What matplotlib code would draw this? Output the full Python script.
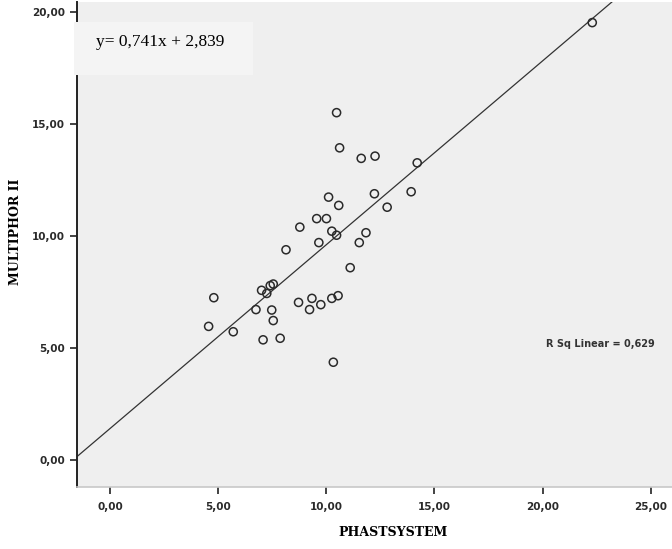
import numpy as np
import matplotlib
matplotlib.use('Agg')
import matplotlib.pyplot as plt
from matplotlib.patches import Rectangle

# scatter values
phastsystem = [10.47, 10.61, 11.61, 12.25, 14.20, 13.92, 12.22, 10.10, 10.57, 12.81,
               9.55, 10.00, 8.77, 10.25, 10.47, 11.83, 11.52, 9.65, 8.13, 11.10,
               7.00, 7.40, 7.54, 7.24, 4.79, 6.74, 7.47, 7.54, 8.71, 9.33,
               9.74, 9.22, 10.25, 10.54, 4.55, 5.69, 7.07, 7.86, 10.32, 22.30]
multiphor = [15.51, 13.94, 13.47, 13.57, 13.27, 11.98, 11.89, 11.74, 11.37, 11.29,
             10.78, 10.78, 10.40, 10.22, 10.04, 10.15, 9.71, 9.71, 9.39, 8.59,
             7.58, 7.79, 7.86, 7.44, 7.25, 6.72, 6.70, 6.23, 7.04, 7.22,
             6.94, 6.72, 7.22, 7.34, 5.97, 5.73, 5.37, 5.44, 4.37, 19.53]

# fit line as drawn in the chart
fit_intercept = 1.42
fit_slope = 0.82

x_ticks = [0, 5, 10, 15, 20, 25]
y_ticks = [0, 5, 10, 15, 20]
equation = "y= 0,741x + 2,839"
r2_text = "R Sq Linear = 0,629"

W, H = 672, 549
fig = plt.figure(figsize=(W / 100, H / 100), dpi=100)
ax = fig.add_axes([77 / W, 62 / H, (W - 77) / W + 0.01, 485 / H])
ax.set_facecolor('#efefef')

ax.set_xlim(-1.54, 26.3)
ax.set_ylim(-1.2, 20.45)

xl = np.array(ax.get_xlim())
ax.plot(xl, fit_intercept + fit_slope * xl, '-', color='#333333', linewidth=0.9)
ax.scatter(phastsystem, multiphor, s=34, facecolors='none', edgecolors='#2a2a2a',
           linewidths=1.1, zorder=3)

ax.set_xticks(x_ticks)
ax.set_yticks(y_ticks)
ax.set_xticklabels([f"{v:.2f}".replace('.', ',') for v in x_ticks])
ax.set_yticklabels([f"{v:.2f}".replace('.', ',') for v in y_ticks])
ax.tick_params(axis='both', direction='out', length=5, width=1.2, color='#222222',
               labelsize=7.5, labelcolor='#2a2a2a')
for lab in ax.get_xticklabels() + ax.get_yticklabels():
    lab.set_fontweight('bold')
ax.tick_params(axis='x', pad=6)

for side in ['top', 'right']:
    ax.spines[side].set_visible(False)
ax.spines['left'].set_color('#222222')
ax.spines['left'].set_linewidth(1.4)
ax.spines['bottom'].set_color('#c8c8c8')
ax.spines['bottom'].set_linewidth(1.2)

ax.text(0.78, 0.295, r2_text, transform=ax.transAxes, fontsize=7, color='#333333',
        fontweight='bold', va='center', ha='left', clip_on=False)

fig.text(393 / W, 1 - 532 / H, "PHASTSYSTEM", fontsize=9, fontweight='bold',
         family='DejaVu Serif', ha='center', va='center')
fig.text(16 / W, 1 - 232 / H, "MULTIPHOR II", fontsize=9, fontweight='bold',
         family='DejaVu Serif', rotation=90, ha='center', va='center')

# pasted equation box
fig.patches.append(Rectangle((74 / W, 1 - 75 / H), 179 / W, 53 / H,
                             transform=fig.transFigure, facecolor='#f4f4f4',
                             edgecolor='none', zorder=5))
fig.text(96 / W, 1 - 42 / H, equation, fontsize=12.5, family='Liberation Serif',
         ha='left', va='center', zorder=6)

fig.savefig('out.png', dpi=100)
